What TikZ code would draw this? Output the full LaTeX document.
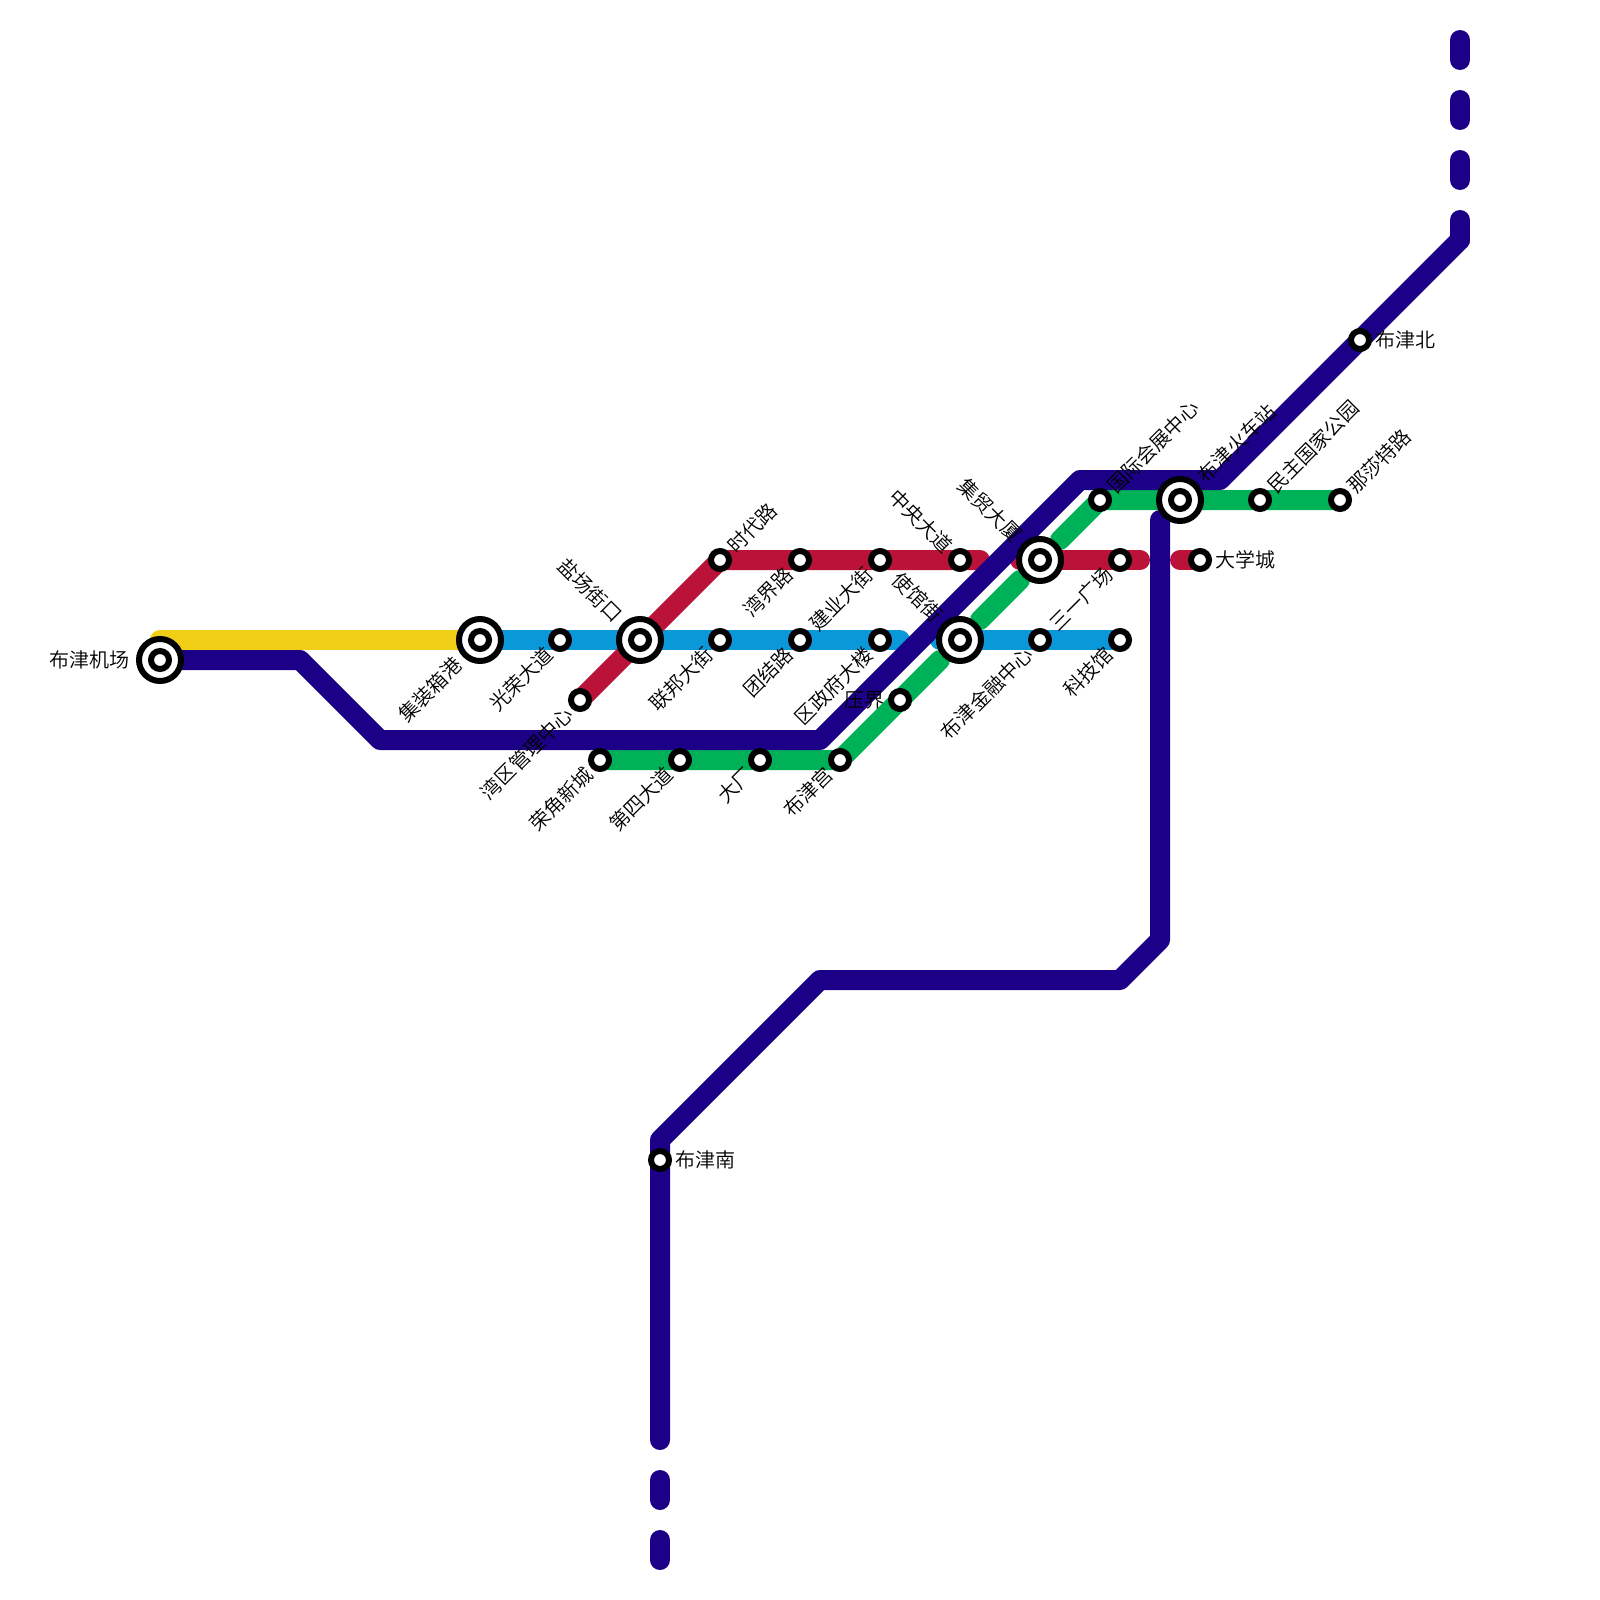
\documentclass[tikz,border=0pt]{standalone}
\usepackage{fontspec}
\usepackage{tikz}
\usetikzlibrary{backgrounds}
\newfontfamily\cjk{Noto Sans CJK SC DemiLight}
\definecolor{linepurple}{HTML}{1C0088}
\definecolor{lineyellow}{HTML}{F0CE15}
\definecolor{lineblue}{HTML}{0A98D8}
\definecolor{linered}{HTML}{BA1239}
\definecolor{linegreen}{HTML}{00B257}
\tikzset{
  metro/.style={line width=20pt, line cap=round, line join=round},
  stop/.style={circle, draw=black, fill=white, line width=6pt, inner sep=0pt, minimum size=18pt},
  bigstop/.style={stop, minimum size=42pt},
  lab/.style={inner sep=0pt, text=black, font=\cjk\fontsize{20}{24}\selectfont},
  labne/.style={lab, rotate=45, anchor=west, xshift=#1},
  labne/.default=15pt,
  labsw/.style={lab, rotate=45, anchor=east, xshift=-#1},
  labsw/.default=15pt,
  labnw/.style={lab, rotate=-45, anchor=east, xshift=-#1},
  labnw/.default=15pt,
  labe/.style={lab, anchor=west, xshift=#1},
  labe/.default=15pt,
  labw/.style={lab, anchor=east, xshift=-#1},
  labw/.default=15pt
}
\begin{document}
\begin{tikzpicture}[x=1pt, y=-1pt]
\useasboundingbox (0,0) rectangle (1600,1600);
% line 4 and line 2 stations
\node[bigstop] (jichang) at (160,660) {};
\node[stop] (jichang-in) at (jichang) {};
\node[bigstop] (jizhuang) at (480,640) {};
\node[stop] (jizhuang-in) at (jizhuang) {};
\node[stop] (guangrong) at (560,640) {};
\node[bigstop] (yanchang) at (640,640) {};
\node[stop] (yanchang-in) at (yanchang) {};
\node[stop] (lianbang) at (720,640) {};
\node[stop] (tuanjie) at (800,640) {};
\node[stop] (quzhengfu) at (880,640) {};
\node[bigstop] (shiguan) at (960,640) {};
\node[stop] (shiguan-in) at (shiguan) {};
\node[stop] (jinrong) at (1040,640) {};
\node[stop] (keji) at (1120,640) {};
% red stations
\node[stop] (wanqu) at (580,700) {};
\node[stop] (shidai) at (720,560) {};
\node[stop] (wanjie) at (800,560) {};
\node[stop] (jianye) at (880,560) {};
\node[stop] (zhongyang) at (960,560) {};
\node[bigstop] (jimao) at (1040,560) {};
\node[stop] (jimao-in) at (jimao) {};
\node[stop] (sanyi) at (1120,560) {};
\node[stop] (daxue) at (1200,560) {};
% green stations
\node[stop] (rongjiao) at (600,760) {};
\node[stop] (disi) at (680,760) {};
\node[stop] (dachang) at (760,760) {};
\node[stop] (bujingong) at (840,760) {};
\node[stop] (yajie) at (900,700) {};
\node[stop] (guoji) at (1100,500) {};
\node[bigstop] (huoche) at (1180,500) {};
\node[stop] (huoche-in) at (huoche) {};
\node[stop] (minzhu) at (1260,500) {};
\node[stop] (nasha) at (1340,500) {};
% purple stations
\node[stop] (bujinbei) at (1360,340) {};
\node[stop] (bujinnan) at (660,1160) {};
% free ends of the broken lines
\coordinate (yellowa) at (160,640);
\coordinate (bluea) at (900,640);
\coordinate (blueb) at (940,640);
\coordinate (reda) at (980,560);
\coordinate (redb) at (1020,560);
\coordinate (redc) at (1140,560);
\coordinate (redd) at (1180,560);
\coordinate (greena) at (940,660);
\coordinate (greenb) at (980,620);
\coordinate (greenc) at (1020,580);
\coordinate (greend) at (1060,540);
\coordinate (purplea) at (300,660);
\coordinate (purpleb) at (380,740);
\coordinate (purplec) at (820,740);
\coordinate (purpled) at (1080,480);
\coordinate (purplee) at (1220,480);
\coordinate (purplef) at (1460,240);
\coordinate (purpleg) at (1460,40);
\coordinate (purpleh) at (1160,520);
\coordinate (purplei) at (1160,940);
\coordinate (purplej) at (1120,980);
\coordinate (purplek) at (820,980);
\coordinate (purplel) at (660,1140);
\coordinate (purplem) at (660,1440);
\coordinate (purplen) at (660,1480);
\coordinate (purpleo) at (660,1560);
\begin{pgfonlayer}{background}
\draw[metro, lineyellow] (jichang.center) -- (yellowa) -- (jizhuang.center);
\draw[metro, lineblue] (jizhuang.center) -- (bluea);
\draw[metro, lineblue] (blueb) -- (keji.center);
\draw[metro, linered] (wanqu.center) -- (shidai.center) -- (reda);
\draw[metro, linered] (redb) -- (redc);
\draw[metro, linered] (redd) -- (daxue.center);
\draw[metro, linegreen] (rongjiao.center) -- (bujingong.center) -- (greena);
\draw[metro, linegreen] (greenb) -- (greenc);
\draw[metro, linegreen] (greend) -- (guoji.center) -- (nasha.center);
\draw[metro, linepurple] (jichang.center) -- (purplea) -- (purpleb) -- (purplec) -- (purpled) -- (purplee) -- (purplef);
\draw[metro, linepurple, dash pattern=on 20pt off 40pt] (purplef) -- (purpleg);
\draw[metro, linepurple] (purpleh) -- (purplei) -- (purplej) -- (purplek) -- (purplel) -- (purplem);
\draw[metro, linepurple, dash pattern=on 20pt off 40pt] (purplen) -- (purpleo);
\end{pgfonlayer}
% labels
\node[labw=30pt] (jichang-lab) at (jichang) {布津机场};
\node[labsw=30pt] (jizhuang-lab) at (jizhuang) {集装箱港};
\node[labsw] (guangrong-lab) at (guangrong) {光荣大道};
\node[labnw=30pt] (yanchang-lab) at (yanchang) {盐场街口};
\node[labsw] (lianbang-lab) at (lianbang) {联邦大街};
\node[labsw] (tuanjie-lab) at (tuanjie) {团结路};
\node[labsw] (quzhengfu-lab) at (quzhengfu) {区政府大楼};
\node[labnw=30pt] (shiguan-lab) at (shiguan) {使馆街};
\node[labsw] (jinrong-lab) at (jinrong) {布津金融中心};
\node[labsw] (keji-lab) at (keji) {科技馆};
\node[labsw] (wanqu-lab) at (wanqu) {湾区管理中心};
\node[labne] (shidai-lab) at (shidai) {时代路};
\node[labsw] (wanjie-lab) at (wanjie) {湾界路};
\node[labsw] (jianye-lab) at (jianye) {建业大街};
\node[labnw] (zhongyang-lab) at (zhongyang) {中央大道};
\node[labnw=30pt] (jimao-lab) at (jimao) {集贸大厦};
\node[labsw] (sanyi-lab) at (sanyi) {三一广场};
\node[labe] (daxue-lab) at (daxue) {大学城};
\node[labsw] (rongjiao-lab) at (rongjiao) {荣角新城};
\node[labsw] (disi-lab) at (disi) {第四大道};
\node[labsw] (dachang-lab) at (dachang) {大厂};
\node[labsw] (bujingong-lab) at (bujingong) {布津宫};
\node[labw] (yajie-lab) at (yajie) {压界};
\node[labne] (guoji-lab) at (guoji) {国际会展中心};
\node[labne=30pt] (huoche-lab) at (huoche) {布津火车站};
\node[labne] (minzhu-lab) at (minzhu) {民主国家公园};
\node[labne] (nasha-lab) at (nasha) {那莎特路};
\node[labe] (bujinbei-lab) at (bujinbei) {布津北};
\node[labe] (bujinnan-lab) at (bujinnan) {布津南};
\end{tikzpicture}
\end{document}
